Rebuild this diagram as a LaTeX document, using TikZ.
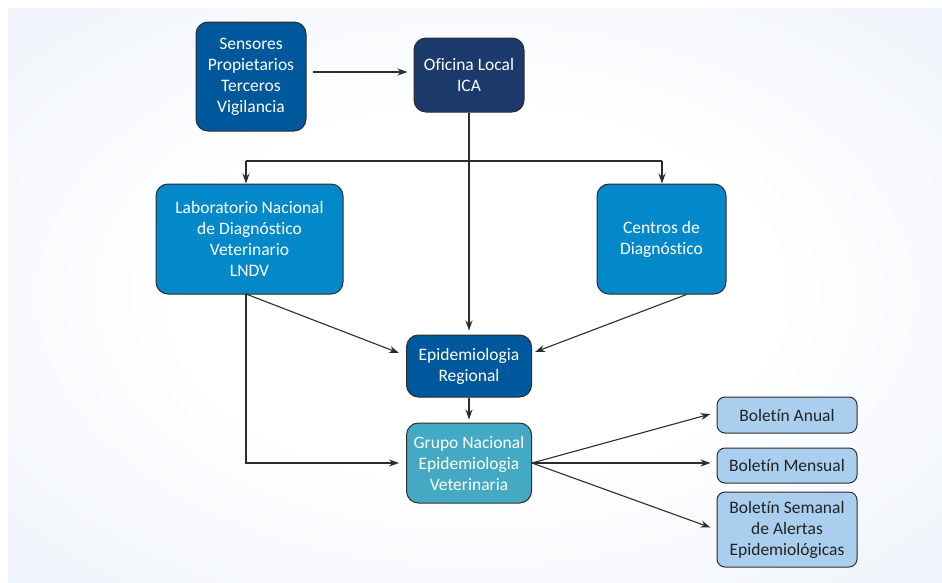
\documentclass[tikz,border=0pt]{standalone}
\usepackage{fontspec}
\setmainfont{Carlito}[Ligatures={NoCommon}]
\usetikzlibrary{arrows.meta}

\definecolor{bgedge}{RGB}{222,231,245}
\definecolor{medblue}{RGB}{0,88,156}
\definecolor{navyblue}{RGB}{27,58,107}
\definecolor{cyanblue}{RGB}{3,137,201}
\definecolor{grpteal}{RGB}{68,169,195}
\definecolor{paleblue}{RGB}{170,206,237}
\definecolor{edgegray}{RGB}{45,45,45}
\definecolor{darktext}{RGB}{35,35,35}

% soft backdrop: white centre fading to pale blue at the borders
\pgfdeclareradialshading{backdrop}{\pgfpoint{0bp}{0bp}}{color(0bp)=(white); color(16bp)=(white); color(56bp)=(bgedge); color(75bp)=(bgedge)}

\begin{document}
\begin{tikzpicture}[x=1pt,y=-1pt,
  box/.style={draw=edgegray, line width=1pt, rounded corners=12pt, align=center,
    text=white, font=\fontsize{17.5}{21}\selectfont, inner sep=0pt},
  bulletin/.style={box, rounded corners=8pt, fill=paleblue, text=darktext,
    minimum width=140pt},
  arr/.style={draw=edgegray, line width=1.1pt, -{Stealth[length=10pt,width=7pt]}},
  link/.style={draw=edgegray, line width=1.1pt}]

\useasboundingbox (0,0) rectangle (942,582);
\shade[shading=backdrop] (8,8) rectangle (942,582);

% boxes
\node[box, fill=medblue, minimum width=110pt, minimum height=109pt] (sens) at (251,76.5)
  {Sensores\\Propietarios\\Terceros\\Vigilancia};
\node[box, fill=navyblue, minimum width=110pt, minimum height=74pt] (ofi) at (469,75)
  {Oficina Local\\ICA};
\node[box, fill=cyanblue, minimum width=187pt, minimum height=110pt] (lab) at (249.5,239)
  {Laboratorio Nacional\\de Diagnóstico\\Veterinario\\LNDV};
\node[box, fill=cyanblue, minimum width=129pt, minimum height=110pt] (cen) at (661.5,239)
  {Centros de\\Diagnóstico};
\node[box, fill=medblue, minimum width=125pt, minimum height=62pt] (epi) at (469,366)
  {Epidemiologia\\Regional};
\node[box, fill=grpteal, minimum width=125pt, minimum height=80pt] (grp) at (469,463)
  {Grupo Nacional\\Epidemiologia\\Veterinaria};
\node[bulletin, minimum height=36pt] (ban) at (787,415) {Boletín Anual};
\node[bulletin, minimum height=35pt] (bme) at (787,465.5) {Boletín Mensual};
\node[bulletin, minimum height=75pt] (bse) at (787,529.5)
  {Boletín Semanal\\de Alertas\\Epidemiológicas};

% branch points
\coordinate (splitL) at (246,161);
\coordinate (splitR) at (662,161);
\coordinate (labfoot) at (246,294);

% connectors
\draw[arr] ([shift={(6,-4.5)}]sens.east) -- ([shift={(-6,-3)}]ofi.west);
\draw[arr] (ofi.south) -- ([yshift=4pt]epi.north);
\draw[link] (splitL) -- (splitR);
\draw[arr] (splitL) -- (splitL |- lab.north);
\draw[arr] (splitR) -- (splitR |- cen.north);
\draw[arr] (labfoot) -- ([shift={(-7,-13)}]epi.west);
\draw[arr] (labfoot) |- ([xshift=-7pt]grp.west);
\draw[arr] ([xshift=25pt]cen.south) -- ([shift={(3,-14)}]epi.east);
\draw[arr] (epi.south) -- ([yshift=3pt]grp.north);
\draw[arr] (grp.east) -- ([shift={(-6,-1)}]ban.west);
\draw[arr] (grp.east) -- ([shift={(-6,-2.5)}]bme.west);
\draw[arr] (grp.east) -- ([shift={(-6,-2)}]bse.west);
\end{tikzpicture}
\end{document}
